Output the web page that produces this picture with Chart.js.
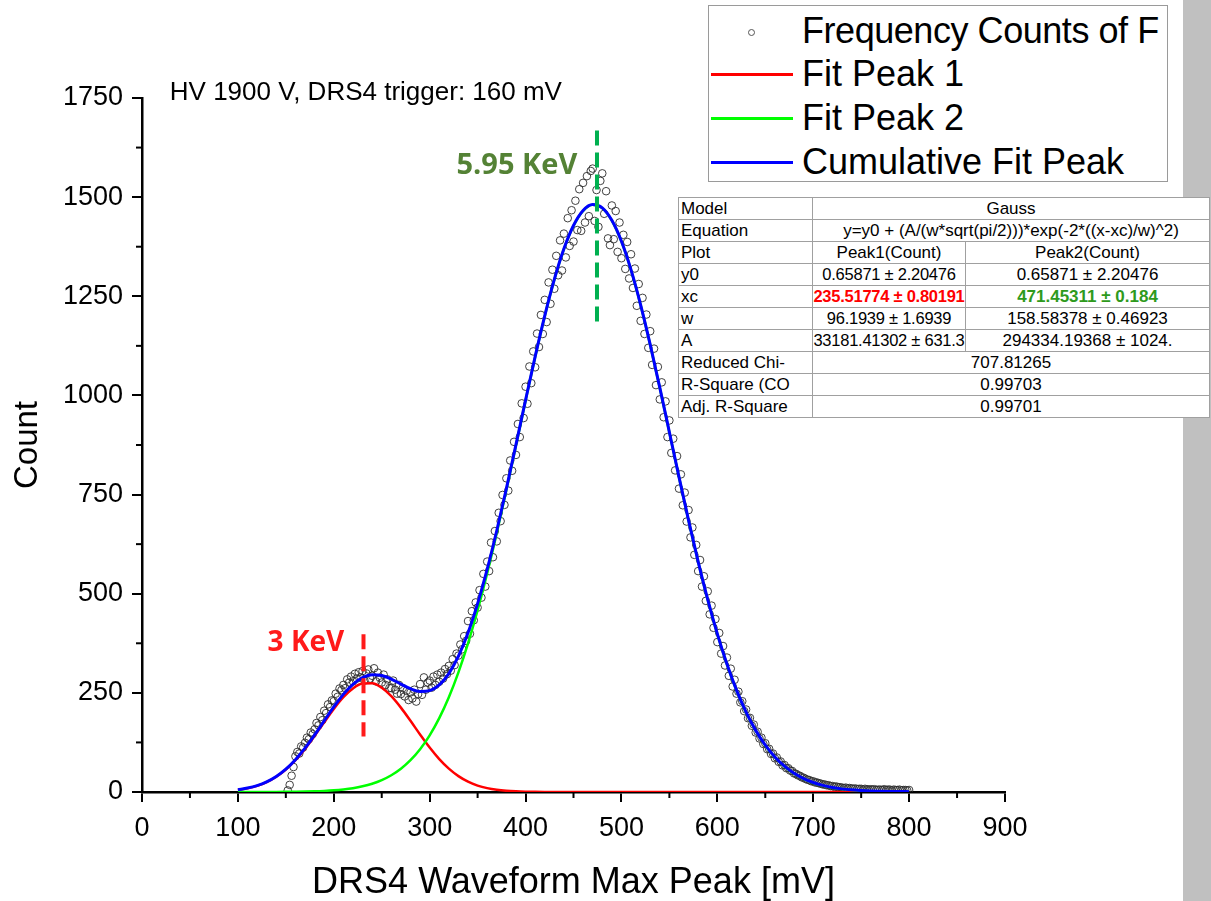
<!DOCTYPE html>
<html>
<head>
<meta charset="utf-8">
<script src="https://cdn.jsdelivr.net/npm/chart.js@4.4.1/dist/chart.umd.min.js"></script>
<style>
  html, body { margin: 0; padding: 0; background: #fff; }
  #wrap { position: relative; width: 1211px; height: 901px; overflow: hidden; font-family: "Liberation Sans", Arial, sans-serif; }
  #side { position: absolute; left: 1183px; top: 0; width: 28px; height: 901px; background: #c0c0c0; }
  canvas { position: absolute; left: 0; top: 0; }
  #legend { position: absolute; left: 708px; top: 5px; width: 458px; height: 175px; border: 1.5px solid #9a9a9a; background: #fff; overflow: hidden; }
  #legend .row { position: absolute; left: 0; width: 100%; height: 44px; }
  #legend .txt { position: absolute; left: 93px; top: 0; font-size: 36px; line-height: 44px; white-space: nowrap; color: #000; }
  #legend .tight { letter-spacing: -0.45px; }
  #legend .ln { position: absolute; left: 2px; top: 21px; width: 82px; height: 3px; }
  #legend .dot { position: absolute; left: 39px; top: 20px; width: 5px; height: 5px; border: 1px solid #555; border-radius: 50%; }
  #fit { position: absolute; left: 678px; top: 197px; width: 531px; table-layout: fixed; border-collapse: collapse; background: #fff; font-size: 17px; color: #000; }
  #fit td { border: 1px solid #a0a0a0; height: 21px; line-height: 21px; padding: 0 2px; white-space: nowrap; overflow: hidden; text-align: center; }
  #fit td:first-child { text-align: left; }
  #fit td.n { font-size: 16.5px; letter-spacing: -0.25px; padding: 0; }
  #fit .r { color: #ff0000; font-weight: bold; }
  #fit .g { color: #2e9a1c; font-weight: bold; }
</style>
</head>
<body>
<div id="wrap">
  <div id="side"></div>
  <canvas id="peaks" width="1211" height="901"></canvas>
  <div id="legend">
    <div class="row" style="top:3px"><span class="dot"></span><span class="txt tight">Frequency Counts of F</span></div>
    <div class="row" style="top:46px"><span class="ln" style="background:#ff0000"></span><span class="txt">Fit Peak 1</span></div>
    <div class="row" style="top:90px"><span class="ln" style="background:#00ff00"></span><span class="txt">Fit Peak 2</span></div>
    <div class="row" style="top:134px"><span class="ln" style="background:#0000ff"></span><span class="txt">Cumulative Fit Peak</span></div>
  </div>
  <table id="fit">
    <colgroup><col style="width:134px"><col style="width:153px"><col style="width:244px"></colgroup>
    <tr><td>Model</td><td colspan="2">Gauss</td></tr>
    <tr><td>Equation</td><td colspan="2">y=y0 + (A/(w*sqrt(pi/2)))*exp(-2*((x-xc)/w)^2)</td></tr>
    <tr><td>Plot</td><td>Peak1(Count)</td><td>Peak2(Count)</td></tr>
    <tr><td>y0</td><td class="n">0.65871 ± 2.20476</td><td>0.65871 ± 2.20476</td></tr>
    <tr><td>xc</td><td class="n r">235.51774 ± 0.80191</td><td class="g">471.45311 ± 0.184</td></tr>
    <tr><td>w</td><td class="n">96.1939 ± 1.6939</td><td>158.58378 ± 0.46923</td></tr>
    <tr><td>A</td><td class="n">33181.41302 ± 631.3</td><td>294334.19368 ± 1024.</td></tr>
    <tr><td>Reduced Chi-</td><td colspan="2">707.81265</td></tr>
    <tr><td>R-Square (CO</td><td colspan="2">0.99703</td></tr>
    <tr><td>Adj. R-Square</td><td colspan="2">0.99701</td></tr>
  </table>
</div>
<script>
// histogram: 2 mV bins starting at 152 mV
const binStart = 152;
const binWidth = 2;
const counts = [
  4, 18, 41, 63,
  90, 101, 97, 115, 112, 124, 137, 133, 150, 146,
  158, 174, 168, 189, 181, 205, 199, 221, 214, 231,
  229, 248, 240, 261, 257, 270, 262, 284, 276, 291,
  279, 298, 286, 302, 289, 305, 281, 299, 309, 286,
  293, 312, 279, 301, 288, 276, 296, 270, 284, 262,
  262, 281, 258, 248, 270, 247, 262, 241, 255, 232,
  251, 236, 258, 228, 247, 272, 245, 289, 258, 276,
  281, 263, 291, 270, 296, 278, 301, 286, 310, 297,
  318, 306, 335, 320, 349, 344, 372, 360, 393, 381,
  431, 399, 456, 433, 478, 465, 509, 490, 550, 518,
  581, 557, 629, 592, 658, 632, 704, 683, 749, 724,
  791, 760, 836, 810, 883, 850, 928, 895, 980, 943,
  1022, 979, 1073, 1031, 1111, 1071, 1156, 1122, 1203, 1155,
  1241, 1185, 1285, 1231, 1317, 1269, 1352, 1303, 1391, 1315,
  1408, 1348, 1447, 1377, 1467, 1388, 1491, 1417, 1520, 1415,
  1536, 1436, 1553, 1452, 1566, 1572, 1440, 1518, 1425, 1541,
  1560, 1458, 1515, 1396, 1379, 1479, 1394, 1465, 1362, 1436,
  1346, 1405, 1319, 1387, 1295, 1356, 1271, 1320, 1226, 1281,
  1188, 1246, 1155, 1204, 1120, 1162, 1077, 1118, 1026, 1072,
  990, 1033, 945, 985, 895, 937, 855, 891, 811, 847,
  765, 801, 723, 755, 682, 711, 642, 667, 598, 623,
  557, 585, 518, 544, 482, 506, 448, 470, 414, 436,
  378, 401, 349, 368, 319, 339, 293, 311, 266, 283,
  248, 253, 226, 229, 204, 208, 186, 187, 167, 170,
  150, 152, 135, 137, 121, 123, 108, 109, 96, 97,
  85, 87, 76, 77, 67, 68, 60, 60, 54, 53,
  47, 46, 42, 41, 37, 36, 33, 31, 30, 27,
  27, 24, 24, 22, 21, 19, 19, 17, 17, 15,
  15, 13, 14, 12, 12, 11, 10, 11, 9, 10,
  9, 8, 9, 7, 8, 8, 6, 8, 7, 6,
  7, 6, 7, 5, 6, 6, 5, 7, 5, 6,
  6, 4, 6, 5, 5, 6, 4, 5, 5, 4,
  5
];

// fit curves sampled every 10 mV
const fitX = [100, 110, 120, 130, 140, 150, 160, 170, 180, 190,
  200, 210, 220, 230, 240, 250, 260, 270, 280, 290,
  300, 310, 320, 330, 340, 350, 360, 370, 380, 390,
  400, 410, 420, 430, 440, 450, 460, 470, 480, 490,
  500, 510, 520, 530, 540, 550, 560, 570, 580, 590,
  600, 610, 620, 630, 640, 650, 660, 670, 680, 690,
  700, 710, 720, 730, 740, 750, 760, 770, 780, 790, 800];
const peak1 = [5.2, 9.1, 15.4, 24.8, 38.3, 56.6, 80.2, 108.8, 141.4, 175.8,
  209.5, 239.1, 261.2, 273.4, 274.0, 263.0, 241.8, 212.8, 179.5, 144.9,
  112.0, 83.0, 58.9, 40.0, 26.0, 16.2, 9.7, 5.5, 3.0, 1.6,
  0.8, 0.4, 0.2, 0.1, 0, 0, 0, 0, 0, 0,
  0, 0, 0, 0, 0, 0, 0, 0, 0, 0,
  0, 0, 0, 0, 0, 0, 0, 0, 0, 0,
  0, 0, 0, 0, 0, 0, 0, 0, 0, 0, 0];
const peak2 = [0.0, 0.1, 0.1, 0.1, 0.2, 0.4, 0.7, 1.1, 1.7, 2.7,
  4.2, 6.5, 9.7, 14.4, 20.9, 30.0, 42.3, 58.7, 80.3, 108.0,
  143.0, 186.3, 239.0, 301.7, 374.7, 458.2, 551.5, 653.2, 761.5, 873.8,
  986.7, 1096.8, 1199.8, 1291.8, 1368.9, 1427.7, 1465.6, 1480.7, 1472.3, 1440.9,
  1388.0, 1315.8, 1227.8, 1127.5, 1019.1, 906.6, 793.8, 684.1, 580.2, 484.3,
  397.9, 321.8, 256.1, 200.6, 154.7, 117.3, 87.6, 64.4, 46.6, 33.2,
  23.2, 16.0, 10.9, 7.3, 4.8, 3.1, 2.0, 1.2, 0.8, 0.5, 0.3];
const cumulative = [5.9, 9.9, 16.1, 25.6, 39.2, 57.7, 81.6, 110.5, 143.8, 179.2,
  214.4, 246.2, 271.6, 288.4, 295.6, 293.6, 284.8, 272.2, 260.5, 253.6,
  255.7, 270.0, 298.6, 342.4, 401.4, 475.1, 561.8, 659.4, 765.2, 876.0,
  988.2, 1097.8, 1200.6, 1292.5, 1369.6, 1428.4, 1466.3, 1481.4, 1473.0, 1441.6,
  1388.7, 1316.5, 1228.5, 1128.2, 1019.8, 907.3, 794.5, 684.8, 580.9, 485.0,
  398.6, 322.5, 256.8, 201.3, 155.4, 118.0, 88.3, 65.1, 47.3, 33.9,
  23.9, 16.7, 11.6, 7.9, 5.4, 3.8, 2.6, 1.9, 1.4, 1.1, 0.9];

// peak markers and labels (data coordinates)
const markers = [
  { x: 231, from: 140, to: 398, color: '#ff1a1a' },
  { x: 474.5, from: 1185, to: 1668, color: '#00b050' }
];
const notes = [
  { text: '3 KeV', x: 131, y: 375, color: '#ff1a1a', font: 'bold 28px "Open Sans"' },
  { text: '5.95 KeV', x: 328, y: 1580, color: '#548235', font: 'bold 29px "Open Sans"' },
  { text: 'HV 1900 V, DRS4 trigger: 160 mV', x: 29, y: 1764, color: '#000', font: '26px "Liberation Sans"' }
];

const pts = (xs, ys) => ys.map((v, i) => ({ x: xs[i], y: v }));
const countPts = counts.map((c, i) => ({ x: binStart + i * binWidth, y: c }));

const extras = {
  id: 'extras',
  afterDraw(chart) {
    const { ctx, scales: { x, y } } = chart;
    ctx.save();
    // minor ticks
    ctx.strokeStyle = '#000';
    ctx.lineWidth = 2;
    for (let v = 50; v < 900; v += 100) {
      const px = x.getPixelForValue(v);
      ctx.beginPath(); ctx.moveTo(px, y.bottom); ctx.lineTo(px, y.bottom + 6); ctx.stroke();
    }
    for (let v = 125; v < 1750; v += 250) {
      const py = y.getPixelForValue(v);
      ctx.beginPath(); ctx.moveTo(x.left, py); ctx.lineTo(x.left - 6, py); ctx.stroke();
    }
    // dashed peak markers
    ctx.lineWidth = 4;
    ctx.setLineDash([15, 7]);
    markers.forEach(m => {
      ctx.strokeStyle = m.color;
      const px = x.getPixelForValue(m.x);
      ctx.beginPath();
      ctx.moveTo(px, y.getPixelForValue(m.to));
      ctx.lineTo(px, y.getPixelForValue(m.from));
      ctx.stroke();
    });
    ctx.setLineDash([]);
    ctx.textAlign = 'left';
    ctx.textBaseline = 'middle';
    notes.forEach(n => {
      ctx.font = n.font;
      ctx.fillStyle = n.color;
      ctx.fillText(n.text, x.getPixelForValue(n.x), y.getPixelForValue(n.y));
    });
    ctx.restore();
  }
};

const tickFont = { family: '"Liberation Sans", Arial, sans-serif', size: 27 };
const plain = v => String(v);

new Chart(document.getElementById('peaks'), {
  type: 'line',
  data: {
    datasets: [
      { label: 'Cumulative Fit Peak', data: pts(fitX, cumulative), borderColor: '#0000ff', borderWidth: 3, pointRadius: 0, cubicInterpolationMode: 'monotone', order: 0 },
      { label: 'Fit Peak 2', data: pts(fitX, peak2), borderColor: '#00ff00', borderWidth: 2.5, pointRadius: 0, cubicInterpolationMode: 'monotone', order: 1 },
      { label: 'Fit Peak 1', data: pts(fitX, peak1), borderColor: '#ff0000', borderWidth: 2.5, pointRadius: 0, cubicInterpolationMode: 'monotone', order: 2 },
      { label: 'Frequency Counts', data: countPts, showLine: false, pointRadius: 3.8, pointBorderWidth: 1, pointBorderColor: 'rgba(45,45,45,0.9)', pointBackgroundColor: 'rgba(0,0,0,0)', order: 3 }
    ]
  },
  options: {
    responsive: false,
    animation: false,
    layout: { padding: { left: 0, top: 98, right: 206, bottom: 0 } },
    plugins: { legend: { display: false }, tooltip: { enabled: false } },
    scales: {
      x: {
        type: 'linear', min: 0, max: 900,
        ticks: { stepSize: 100, font: tickFont, color: '#000', padding: 10, maxRotation: 0, callback: plain },
        grid: { drawOnChartArea: false, color: '#000', lineWidth: 2, tickLength: 10 },
        border: { color: '#000', width: 2.5 },
        title: { display: true, text: 'DRS4 Waveform Max Peak [mV]', color: '#000', font: { family: '"Liberation Sans", Arial, sans-serif', size: 36, lineHeight: 1 }, padding: { top: 0, bottom: 0 } },
        afterFit(s) { s.height = 109; }
      },
      y: {
        min: 0, max: 1750,
        ticks: { stepSize: 250, font: tickFont, color: '#000', padding: 9, callback: plain },
        grid: { drawOnChartArea: false, color: '#000', lineWidth: 2, tickLength: 10 },
        border: { color: '#000', width: 2.5 },
        title: { display: true, text: 'Count', color: '#000', font: { family: '"Liberation Sans", Arial, sans-serif', size: 33, lineHeight: 1 }, padding: { top: 11, bottom: 0 } },
        afterFit(s) { s.width = 142; }
      }
    }
  },
  plugins: [extras]
});
</script>
</body>
</html>
